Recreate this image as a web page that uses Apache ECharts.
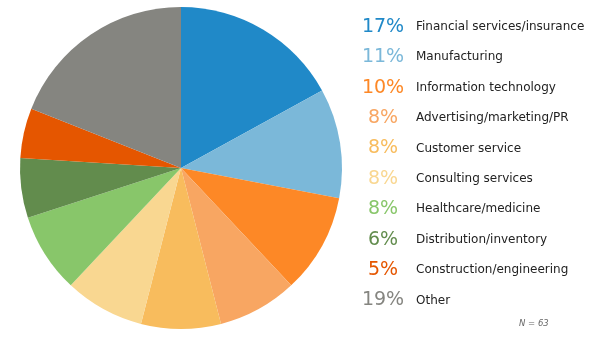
<!DOCTYPE html>
<html><head><meta charset="utf-8">
<script src="https://cdn.jsdelivr.net/npm/echarts@6/dist/echarts.min.js"></script>
<style>html,body{margin:0;padding:0;background:#fff}#c{width:616px;height:352px}</style>
</head><body><div id="c"></div>
<script>
var categories = ["Financial services/insurance","Manufacturing","Information technology","Advertising/marketing/PR","Customer service","Consulting services","Healthcare/medicine","Distribution/inventory","Construction/engineering","Other"];
var percents = [17, 11, 10, 8, 8, 8, 8, 6, 5, 19];
var colors = ["#2089c8","#7bb8d9","#fd8826","#f8a662","#f8bc5d","#f9d791","#88c66a","#628c4d","#e55600","#858580"];
var sampleNote = "N = 63";

var rich = { n: { fontFamily: "DejaVu Sans", fontSize: 12, color: "#222", padding: [0,0,0,8], lineHeight: 22 } };
categories.forEach(function (c, i) {
  rich["p" + i] = { fontFamily: "DejaVu Sans", fontSize: 19, color: colors[i], width: 50, align: "right", lineHeight: 22 };
});

var chart = echarts.init(document.getElementById("c"), null, { renderer: "canvas" });
chart.setOption({
  animation: false,
  color: colors,
  title: {
    text: sampleNote, left: 514, top: 314,
    textStyle: { fontFamily: "DejaVu Sans", fontSize: 8.5, fontStyle: "italic", fontWeight: "normal", color: "#666" }
  },
  legend: {
    orient: "vertical", left: 353, top: 17.4, icon: "none", itemWidth: 0, itemHeight: 10, itemGap: 11.4,
    padding: 0,
    selectedMode: false,
    data: categories,
    formatter: function (name) {
      var i = categories.indexOf(name);
      return "{p" + i + "|" + percents[i] + "%}{n|" + name + "}";
    },
    textStyle: { rich: rich }
  },
  series: [{
    type: "pie",
    center: [181, 168], radius: 161, startAngle: 90, clockwise: true,
    label: { show: false }, labelLine: { show: false },
    itemStyle: { borderWidth: 0 },
    emphasis: { disabled: true },
    data: categories.map(function (c, i) { return { name: c, value: percents[i] }; })
  }]
});
</script></body></html>
